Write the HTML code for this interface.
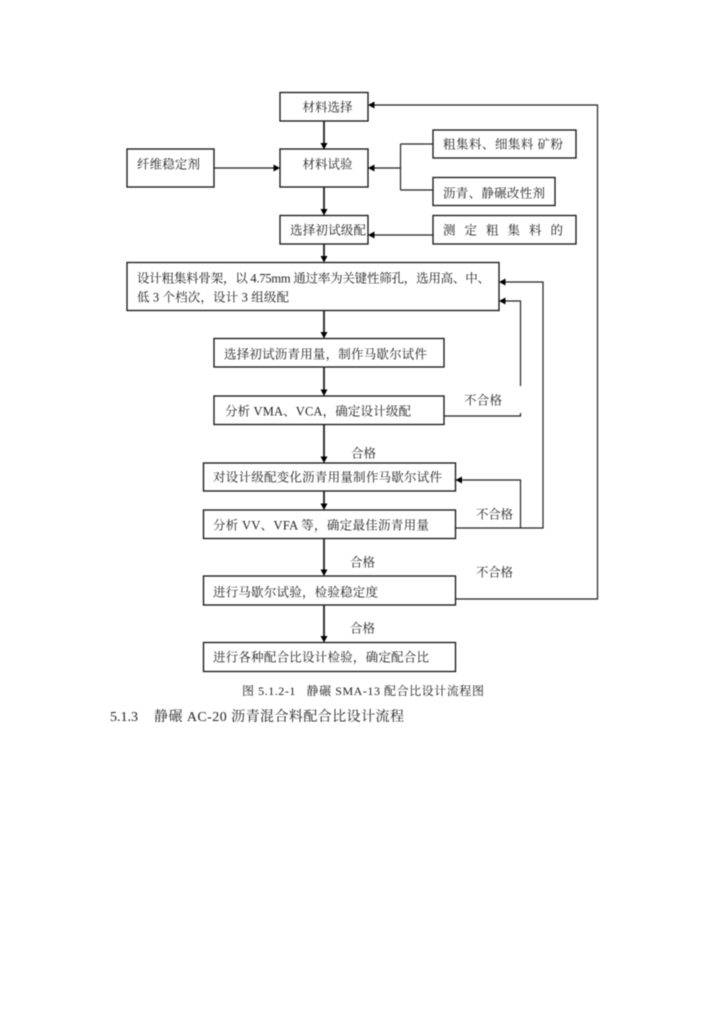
<!DOCTYPE html>
<html>
<head>
<meta charset="utf-8">
<style>
html,body{margin:0;padding:0;background:#fff;width:724px;height:1024px;overflow:hidden}
svg{display:block;filter:blur(.5px)}
text{font-family:"Liberation Serif","Noto Serif CJK SC",serif;font-size:12.5px;fill:#222}
rect{fill:#fff;stroke:#111;stroke-width:1.3}
.l{fill:none;stroke:#222;stroke-width:1.2}
.v{fill:none;stroke:#222;stroke-width:1.8}
.a{fill:#000;stroke:none}
</style>
</head>
<body>
<svg width="724" height="1024" viewBox="0 0 724 1024" xmlns="http://www.w3.org/2000/svg">
<rect x="280" y="92.500" width="88" height="28.500"/>
<rect x="280" y="149" width="88" height="38"/>
<rect x="127" y="149" width="87" height="38"/>
<rect x="433" y="130" width="143" height="28"/>
<rect x="433" y="177.500" width="122" height="28"/>
<rect x="280" y="215.500" width="88" height="28.500"/>
<rect x="433" y="215.500" width="143" height="28.500"/>
<rect x="127" y="262.500" width="372" height="48"/>
<rect x="214" y="338.500" width="230" height="28.500"/>
<rect x="214" y="396" width="230" height="28.500"/>
<rect x="203.500" y="463" width="252" height="28"/>
<rect x="203.500" y="510" width="252" height="28.500"/>
<rect x="203.500" y="576" width="252" height="29"/>
<rect x="203.500" y="642.500" width="252" height="29"/>

<path class="v" d="M324 121V143M324 187V209M324 244V256M324 310.500V332M324 367V390M324 424.500V457M324 491V504M324 538.500V570M324 605V636"/>
<path class="a" d="M320.500 143h7L324 149.500zM320.500 209h7L324 215.500zM320.500 256h7L324 262.500zM320.500 332h7L324 338.500zM320.500 389.500h7L324 396zM320.500 456.500h7L324 463zM320.500 503.500h7L324 510zM320.500 569.500h7L324 576zM320.500 636h7L324 642.500z"/>

<path class="l" d="M214 168H274"/>
<path class="a" d="M273.500 164.500v7L280 168z"/>
<path class="l" d="M374 168H400.500M400.500 144V190M400.500 144H433M400.500 190H433"/>
<path class="a" d="M374.500 164.500v7L368 168z"/>
<path class="l" d="M374 235H433"/>
<path class="a" d="M374.500 231.500v7L368 235z"/>

<path class="l" d="M374 105H597.500V599H455.500"/>
<path class="a" d="M374.500 101.500v7L368 105z"/>

<path class="l" d="M505 282H543V528H455.500"/>
<path class="a" d="M505.500 278.500v7L499 282z"/>
<path class="l" d="M505 301H520.500V386M520.500 413V416H444"/>
<path class="a" d="M505.500 297.500v7L499 301z"/>
<path class="l" d="M461 480H520.500V528"/>
<path class="a" d="M462 476.500v7L455.500 480z"/>

<text x="302.500" y="111.500" textLength="50">材料选择</text>
<text x="302.500" y="168.500" textLength="50">材料试验</text>
<text x="137" y="168.500" textLength="63">纤维稳定剂</text>
<text x="443" y="148.500" textLength="120" lengthAdjust="spacing">粗集料、细集料 矿粉</text>
<text x="443" y="197.500" textLength="102">沥青、静碾改性剂</text>
<text x="290" y="234.500" textLength="76">选择初试级配</text>
<text x="443" y="234.500" textLength="120">测定粗集料的</text>
<text x="137" y="282.500" textLength="353">设计粗集料骨架，以 4.75mm 通过率为关键性筛孔，选用高、中、</text>
<text x="137" y="301.500" textLength="152">低 3 个档次，设计 3 组级配</text>
<text x="224" y="358.500" textLength="203">选择初试沥青用量，制作马歇尔试件</text>
<text x="225" y="415.500" textLength="186">分析 VMA、VCA，确定设计级配</text>
<text x="464" y="404.500" textLength="38">不合格</text>
<text x="351" y="457.500" textLength="25">合格</text>
<text x="213" y="481.500" textLength="229">对设计级配变化沥青用量制作马歇尔试件</text>
<text x="213" y="529.500" textLength="216">分析 VV、VFA 等，确定最佳沥青用量</text>
<text x="476" y="518.500" textLength="37">不合格</text>
<text x="350" y="566.500" textLength="25">合格</text>
<text x="476" y="576.500" textLength="37">不合格</text>
<text x="213" y="596.500" textLength="165">进行马歇尔试验，检验稳定度</text>
<text x="350" y="632.500" textLength="25">合格</text>
<text x="213" y="661.500" textLength="216">进行各种配合比设计检验，确定配合比</text>
<text x="242" y="695" textLength="242" style="font-size:12px" xml:space="preserve">图 5.1.2-1   静碾 SMA-13 配合比设计流程图</text>
<text x="110" y="721" style="font-size:14px">5.1.3</text>
<text x="154" y="721" textLength="250" style="font-size:14px">静碾 AC-20 沥青混合料配合比设计流程</text>
</svg>
</body>
</html>
